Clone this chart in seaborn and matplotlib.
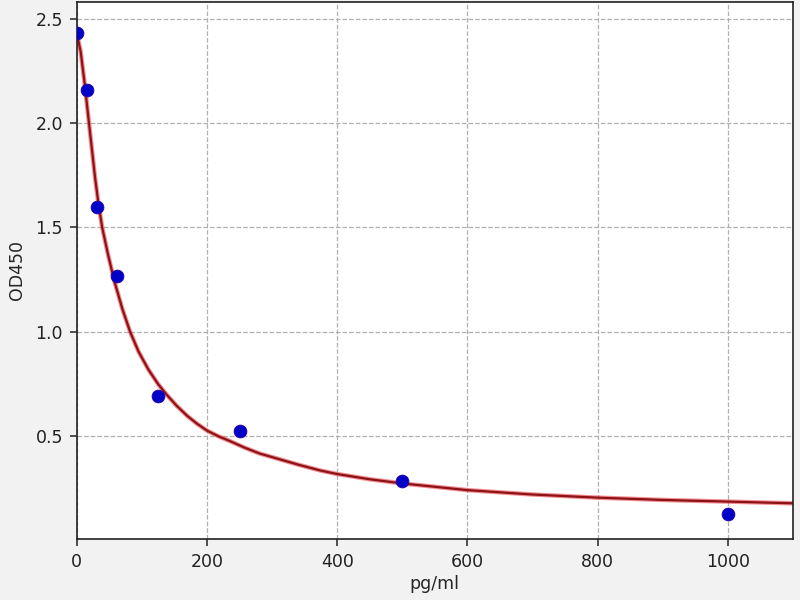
import matplotlib
matplotlib.use("Agg")
import matplotlib.pyplot as plt
import pandas as pd
import seaborn as sns

# standard points (concentration pg/ml vs OD450)
conc = [0, 15.6, 31.25, 62.5, 125, 250, 500, 1000]
od450 = [2.433, 2.16, 1.60, 1.27, 0.693, 0.525, 0.286, 0.127]

# fitted curve
curve_x = [0, 6, 12, 18, 23, 28, 33, 39, 48, 58, 70, 82, 95, 110, 125,
           138, 153, 169, 185, 200, 218, 235, 258, 281, 310, 340, 374,
           400, 450, 500, 600, 700, 800, 900, 1000, 1100]
curve_y = [2.43, 2.34, 2.19, 2.02, 1.88, 1.74, 1.62, 1.50, 1.37, 1.24,
           1.11, 1.00, 0.905, 0.82, 0.75, 0.70, 0.648, 0.60, 0.56, 0.528,
           0.50, 0.478, 0.446, 0.418, 0.392, 0.365, 0.337, 0.32, 0.295,
           0.275, 0.243, 0.222, 0.207, 0.196, 0.188, 0.18]

points = pd.DataFrame({"pg/ml": conc, "OD450": od450})
curve = pd.DataFrame({"pg/ml": curve_x, "OD450": curve_y})

sns.set_style("white")
fig, ax = plt.subplots(figsize=(8, 6), dpi=100)
fig.patch.set_facecolor("#f2f2f2")
ax.set_facecolor("white")
fig.subplots_adjust(left=0.096, right=0.991, top=0.997, bottom=0.102)

# red halo + darker core like the original
sns.lineplot(data=curve, x="pg/ml", y="OD450", color="#e8323a",
             linewidth=3.2, alpha=0.55, ax=ax, zorder=2)
sns.lineplot(data=curve, x="pg/ml", y="OD450", color="#8c1216",
             linewidth=1.6, ax=ax, zorder=2)
sns.scatterplot(data=points, x="pg/ml", y="OD450", color="#0000c8",
                s=85, edgecolor="#2a00a0", linewidth=0.6, ax=ax, zorder=3)

ax.set_xlim(0, 1100)
ax.set_ylim(0.01, 2.58)
ax.set_xticks([0, 200, 400, 600, 800, 1000])
ax.set_yticks([0.5, 1.0, 1.5, 2.0, 2.5])
ax.grid(True, linestyle="--", color="#b0b0b0", linewidth=0.9)
ax.set_axisbelow(True)
for sp in ax.spines.values():
    sp.set_color("#222222")
    sp.set_linewidth(1.2)
ax.tick_params(axis="both", labelsize=12.5, length=5, width=1.1, pad=5,
               colors="#222222", left=True, bottom=True)
ax.set_xlabel("pg/ml", fontsize=12.5, labelpad=3)
ax.set_ylabel("OD450", fontsize=12.5, labelpad=7)

fig.savefig("out.png", dpi=100, facecolor=fig.get_facecolor())
